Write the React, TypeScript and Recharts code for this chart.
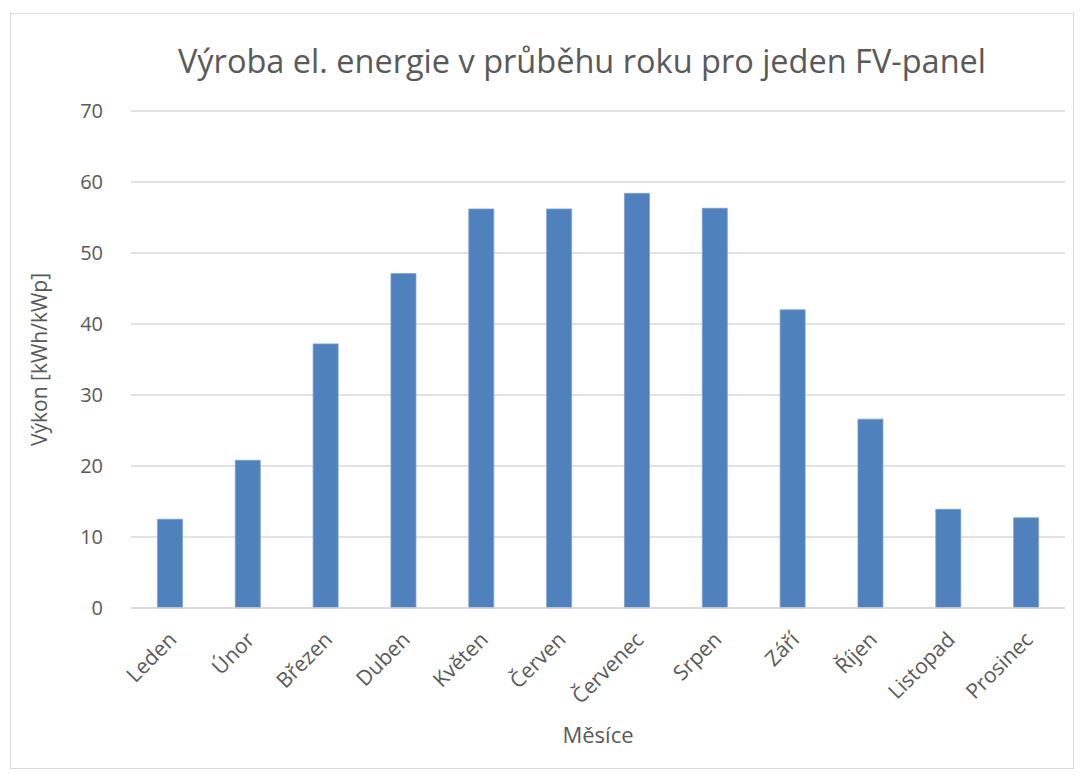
import { BarChart, Bar, XAxis, YAxis, CartesianGrid } from 'recharts';

const months = ['Leden', 'Únor', 'Březen', 'Duben', 'Květen', 'Červen', 'Červenec', 'Srpen', 'Září', 'Říjen', 'Listopad', 'Prosinec'];
const output = [12.5, 20.8, 37.2, 47.1, 56.2, 56.2, 58.4, 56.3, 42.0, 26.6, 13.9, 12.7];
const yTicks = [0, 10, 20, 30, 40, 50, 60, 70];

const data = months.map((m, i) => ({ month: m, value: output[i] }));

const FONT = '"Open Sans", sans-serif';
const TEXT = '#595959';

const MonthTick = ({ x, y, payload }: any) => (
  <text
    x={x + 8}
    y={y + 25}
    transform={`rotate(-45, ${x + 8}, ${y + 25})`}
    textAnchor="end"
    fill={TEXT}
    fontSize={21}
    fontFamily={FONT}
  >
    {payload.value}
  </text>
);

export default function App() {
  return (
    <div style={{ position: 'relative', width: 1066, height: 767, fontFamily: FONT }}>
      <div
        style={{
          position: 'absolute', left: 2, top: 5, width: 1064, height: 756,
          border: '1px solid #D9D9D9', boxSizing: 'border-box',
        }}
      />
      <div
        style={{
          position: 'absolute', left: 0, width: 1148, top: 30, textAlign: 'center',
          fontSize: 32.5, color: TEXT, whiteSpace: 'nowrap',
        }}
      >
        Výroba el. energie v průběhu roku pro jeden FV-panel
      </div>
      <div style={{ position: 'absolute', left: 0, top: 0 }}>
        <BarChart
          width={1066}
          height={767}
          data={data}
          margin={{ top: 103, right: 9, bottom: 0, left: 36 }}
          barCategoryGap="34%"
        >
          <CartesianGrid vertical={false} stroke="#D9D9D9" strokeWidth={1.5} />
          <XAxis
            dataKey="month"
            axisLine={{ stroke: '#D9D9D9', strokeWidth: 1.5 }}
            tickLine={false}
            interval={0}
            height={167}
            tick={<MonthTick />}
            label={{ value: 'Měsíce', position: 'insideBottom', offset: 32, fill: TEXT, fontSize: 22, fontFamily: FONT }}
          />
          <YAxis
            domain={[0, 70]}
            ticks={yTicks}
            width={87}
            axisLine={false}
            tickLine={false}
            tickMargin={22}
            tick={{ fill: TEXT, fontSize: 20, fontFamily: FONT }}
            label={{ value: 'Výkon [kWh/kWp]', angle: -90, position: 'insideLeft', offset: -4, style: { textAnchor: 'middle' }, fill: TEXT, fontSize: 21, fontFamily: FONT }}
          />
          <Bar dataKey="value" fill="#4F81BD" stroke="#7BA0CD" strokeWidth={0.8} isAnimationActive={false} />
        </BarChart>
      </div>
    </div>
  );
}
